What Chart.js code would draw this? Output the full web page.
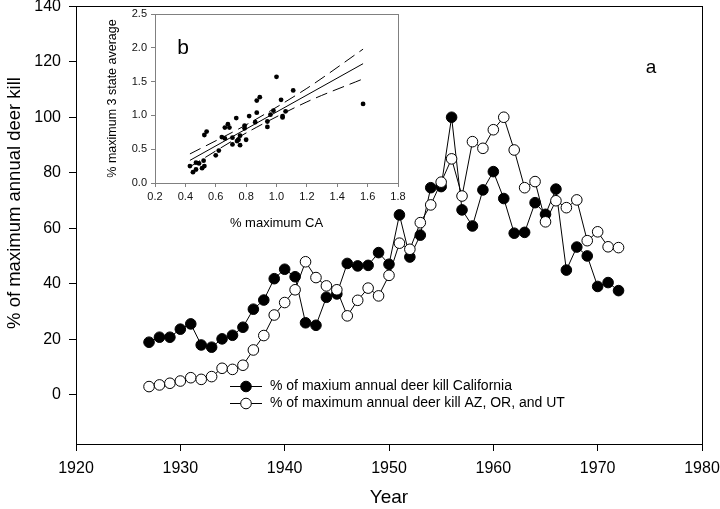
<!DOCTYPE html>
<html><head><meta charset="utf-8">
<script src="https://cdn.jsdelivr.net/npm/chart.js@4.4.0/dist/chart.umd.min.js"></script>
<style>
html,body{margin:0;padding:0;background:#fff;}
#wrap{position:relative;width:720px;height:509px;overflow:hidden;}
#main{position:absolute;left:0;top:0;}
#inset{position:absolute;left:95px;top:0;}
</style></head><body>
<div id="wrap"><canvas id="main" width="720" height="509"></canvas><canvas id="inset" width="320" height="240"></canvas></div>
<script>
// ---- main chart data ----
const years = [1927,1928,1929,1930,1931,1932,1933,1934,1935,1936,1937,1938,1939,1940,1941,1942,1943,1944,1945,1946,1947,1948,1949,1950,1951,1952,1953,1954,1955,1956,1957,1958,1959,1960,1961,1962,1963,1964,1965,1966,1967,1968,1969,1970,1971,1972];
const californiaKill = [18.9,20.7,20.7,23.6,25.5,17.9,17.1,20.1,21.4,24.3,30.8,34.1,41.8,45.2,42.5,25.9,25.0,35.1,36.3,47.3,46.4,46.6,51.2,47.0,64.8,49.6,57.5,74.6,75.0,100.0,66.6,60.8,73.8,80.4,70.7,58.2,58.5,69.2,65.0,74.1,44.9,53.2,50.0,39.0,40.4,37.5];
const azOrUtKill = [2.9,3.5,4.1,4.9,6.1,5.5,6.5,9.5,9.1,10.6,16.1,21.3,28.7,33.2,37.8,47.9,42.2,39.2,37.8,28.4,34.0,38.4,35.6,43.0,54.6,52.4,62.0,68.4,76.6,85.0,71.6,91.2,88.8,95.5,100.0,88.2,74.6,76.8,62.3,69.9,67.4,70.2,55.5,58.7,53.3,53.0];
const xTickValues = [1920,1930,1940,1950,1960,1970,1980];
const yTickValues = [0,20,40,60,80,100,120,140];
const seriesLabels = ['% of maxium annual deer kill California','% of maximum annual deer kill AZ, OR, and UT'];

// ---- inset data ----
const insetCA = [0.43,0.45,0.47,0.47,0.49,0.51,0.525,0.52,0.525,0.54,0.60,0.62,0.64,0.66,0.66,0.68,0.69,0.71,0.71,0.735,0.74,0.75,0.76,0.76,0.79,0.79,0.80,0.82,0.86,0.87,0.87,0.89,0.94,0.94,0.96,0.98,1.00,1.03,1.04,1.04,1.06,1.11,1.57];
const insetAvg = [0.25,0.16,0.20,0.30,0.29,0.22,0.25,0.33,0.71,0.76,0.41,0.48,0.68,0.66,0.82,0.87,0.82,0.57,0.67,0.96,0.62,0.64,0.70,0.56,0.81,0.85,0.64,0.99,0.90,1.22,1.04,1.27,0.83,0.91,1.01,1.07,1.57,1.23,0.99,0.97,1.06,1.37,1.17];
const fitX = [0.43,1.57];
const fitY = [0.335,1.765];
const bandX = [0.43,0.8,1.2,1.57];
const bandUpper = [0.43,0.86,1.40,1.98];
const bandLower = [0.24,0.74,1.20,1.54];
const insetXTicks = [0.2,0.4,0.6,0.8,1.0,1.2,1.4,1.6,1.8];
const insetYTicks = [0.0,0.5,1.0,1.5,2.0,2.5];

const FONT = '"Liberation Sans", Arial, sans-serif';
Chart.defaults.font.family = FONT;
Chart.defaults.color = '#000';

function px(v){ return Math.round(v - 0.5) + 0.5; }

const framePlugin = {
  id: 'frame',
  afterDraw(chart, args, opts) {
    const a = chart.chartArea, ctx = chart.ctx;
    ctx.save();
    ctx.strokeStyle = opts.color || '#000';
    ctx.lineWidth = 1;
    ctx.strokeRect(px(a.left), px(a.top), px(a.right) - px(a.left), px(a.bottom) - px(a.top));
    ctx.restore();
  }
};

const textPlugin = {
  id: 'labels',
  afterDraw(chart, args, opts) {
    const ctx = chart.ctx;
    (opts.items || []).forEach(t => {
      ctx.save();
      ctx.font = t.font;
      ctx.fillStyle = '#000';
      ctx.textAlign = 'center';
      ctx.textBaseline = 'middle';
      ctx.translate(t.x, t.y);
      if (t.rot) ctx.rotate(t.rot);
      ctx.fillText(t.text, 0, 0);
      ctx.restore();
    });
  }
};

const legendPlugin = {
  id: 'manualLegend',
  afterDraw(chart) {
    const ctx = chart.ctx;
    ctx.save();
    ctx.font = '14px ' + FONT;
    ctx.textBaseline = 'middle';
    ctx.textAlign = 'left';
    chart.data.datasets.forEach((ds, i) => {
      const y = 386.5 + i * 17;
      ctx.strokeStyle = '#000'; ctx.lineWidth = 1;
      ctx.beginPath(); ctx.moveTo(230, y); ctx.lineTo(262, y); ctx.stroke();
      ctx.beginPath(); ctx.arc(246, y, 5.3, 0, Math.PI * 2);
      ctx.fillStyle = ds.pointBackgroundColor; ctx.fill(); ctx.stroke();
      ctx.fillStyle = '#000';
      ctx.fillText(ds.label, 270, y);
    });
    ctx.restore();
  }
};

new Chart(document.getElementById('main'), {
  type: 'line',
  data: {
    datasets: [
      { label: seriesLabels[0], data: years.map((y, i) => ({x: y, y: californiaKill[i]})),
        borderColor: '#000', borderWidth: 1, pointRadius: 5.3, pointBackgroundColor: '#000',
        pointBorderColor: '#000', pointBorderWidth: 1, order: 1 },
      { label: seriesLabels[1], data: years.map((y, i) => ({x: y, y: azOrUtKill[i]})),
        borderColor: '#000', borderWidth: 1, pointRadius: 5.3, pointBackgroundColor: '#fff',
        pointBorderColor: '#000', pointBorderWidth: 1, order: 0 }
    ]
  },
  options: {
    responsive: false, animation: false, devicePixelRatio: 1,
    layout: { padding: { left: 0, top: 6, right: 18, bottom: 0 } },
    plugins: { legend: { display: false }, tooltip: { enabled: false },
      frame: { color: '#000' },
      labels: { items: [
        { text: 'a', x: 651, y: 68, font: '19px ' + FONT },
        { text: '% of maximum annual deer kill', x: 15, y: 203, rot: -Math.PI / 2, font: '18.5px ' + FONT }
      ] } },
    scales: {
      x: { type: 'linear', min: 1920, max: 1980,
        afterBuildTicks: s => { s.ticks = xTickValues.map(v => ({ value: v })); },
        afterFit: s => { s.height = 65; s.paddingLeft = 0; s.paddingRight = 0; },
        grid: { drawOnChartArea: false, drawTicks: true, tickLength: 7, color: '#000', tickColor: '#000' },
        border: { color: '#000', width: 1 },
        ticks: { font: { size: 16 }, color: '#000', padding: 8, maxRotation: 0, callback: v => String(v) },
        title: { display: true, text: 'Year', font: { size: 19 }, color: '#000', padding: { top: 0, bottom: 0 } } },
      y: { type: 'linear', min: -17.8, max: 140,
        afterBuildTicks: s => { s.ticks = yTickValues.map(v => ({ value: v })); },
        afterFit: s => { s.width = 76; s.paddingTop = 0; s.paddingBottom = 0; },
        grid: { drawOnChartArea: false, drawTicks: true, tickLength: 7, color: '#000', tickColor: '#000' },
        border: { color: '#000', width: 1 },
        ticks: { font: { size: 16 }, color: '#000', padding: 8, callback: v => String(v) },
        title: { display: false } }
    }
  },
  plugins: [framePlugin, textPlugin, legendPlugin]
});

new Chart(document.getElementById('inset'), {
  type: 'scatter',
  data: {
    datasets: [
      { label: 'points', data: insetCA.map((x, i) => ({x: x, y: insetAvg[i]})),
        pointRadius: 2.4, pointBackgroundColor: '#000', pointBorderColor: '#000', pointBorderWidth: 0, showLine: false },
      { label: 'fit', data: fitX.map((x, i) => ({x: x, y: fitY[i]})), showLine: true,
        borderColor: '#000', borderWidth: 1, pointRadius: 0 },
      { label: 'upper', data: bandX.map((x, i) => ({x: x, y: bandUpper[i]})), showLine: true,
        borderColor: '#000', borderWidth: 1, pointRadius: 0, borderDash: [12, 6], tension: 0.3 },
      { label: 'lower', data: bandX.map((x, i) => ({x: x, y: bandLower[i]})), showLine: true,
        borderColor: '#000', borderWidth: 1, pointRadius: 0, borderDash: [12, 6], tension: 0.3 }
    ]
  },
  options: {
    responsive: false, animation: false, devicePixelRatio: 1,
    layout: { padding: { left: 0, top: 14, right: 17, bottom: 0 } },
    plugins: { legend: { display: false }, tooltip: { enabled: false },
      frame: { color: '#808080' },
      labels: { items: [{ text: 'b', x: 88, y: 48, font: '21px ' + FONT }] } },
    scales: {
      x: { type: 'linear', min: 0.2, max: 1.8,
        afterBuildTicks: s => { s.ticks = insetXTicks.map(v => ({ value: v })); },
        afterFit: s => { s.height = 57; s.paddingLeft = 0; s.paddingRight = 0; },
        grid: { drawOnChartArea: false, tickLength: 4, color: '#808080', tickColor: '#808080' },
        border: { color: '#808080', width: 1 },
        ticks: { font: { size: 11 }, color: '#111', padding: 3, maxRotation: 0, callback: v => Number(v).toFixed(1) },
        title: { display: true, text: '% maximum CA', font: { size: 13 }, color: '#000', padding: { top: 0, bottom: 9 } } },
      y: { type: 'linear', min: 0, max: 2.5,
        afterBuildTicks: s => { s.ticks = insetYTicks.map(v => ({ value: v })); },
        afterFit: s => { s.width = 60; s.paddingTop = 0; s.paddingBottom = 0; },
        grid: { drawOnChartArea: false, tickLength: 4, color: '#808080', tickColor: '#808080' },
        border: { color: '#808080', width: 1 },
        ticks: { font: { size: 11 }, color: '#111', padding: 4, callback: v => Number(v).toFixed(1) },
        title: { display: true, text: '% maximum 3 state average', font: { size: 12.5 }, color: '#000', padding: { top: 10, bottom: 0 } } }
    }
  },
  plugins: [framePlugin, textPlugin]
});
</script>
</body></html>
